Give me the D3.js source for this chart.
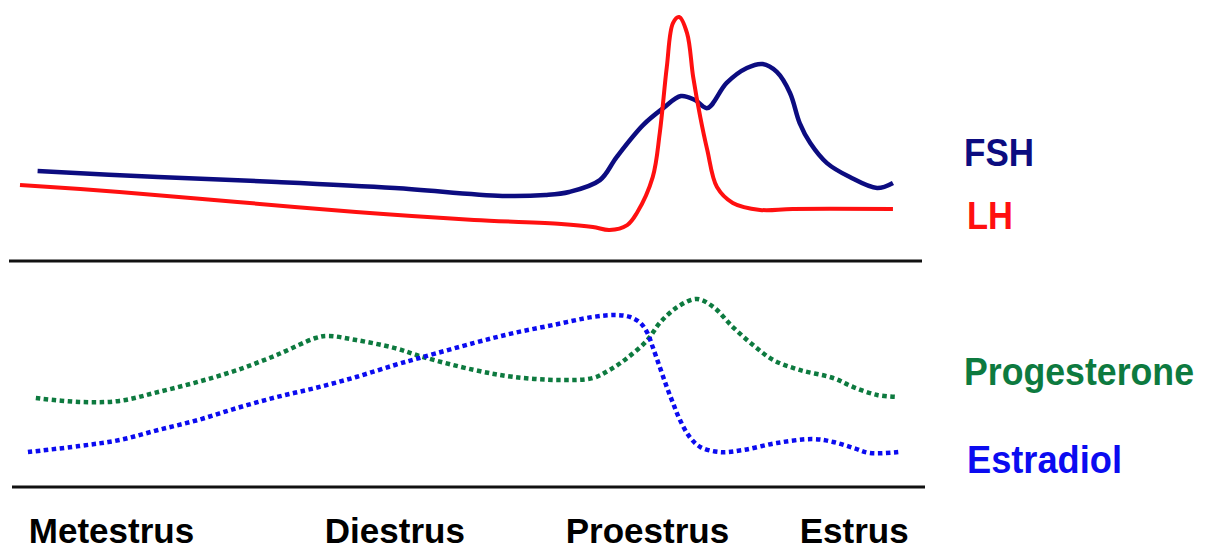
<html>
<head>
<script src="https://d3js.org/d3.v7.min.js"></script>
<style>
body { margin: 0; background: #fff; }
text { font-family: "Liberation Sans", Arial, sans-serif; font-weight: bold; }
</style>
</head>
<body>
<div id="chart"></div>
<script>

// cycle time (0-100) and relative hormone level (0-100)
var fsh = [[2.0,33.9],[15.7,31.3],[29.2,29.2],[42.6,26.6],[54.8,23.2],[59.7,23.6],[62.4,24.9],[65.9,30.0],
  [67.8,39.9],[70.8,53.6],[73.1,60.9],[75.1,66.1],[76.7,64.4],[78.1,60.9],[80.3,71.7],[82.6,78.1],
  [84.4,79.8],[86.0,76.4],[87.5,67.4],[88.6,54.5],[89.8,45.9],[91.7,37.3],[94.3,31.3],[97.4,26.6],[99.2,28.8]];

var lh = [[0,27.9],[11.3,24.9],[24.7,20.6],[38.2,16.3],[51.6,12.9],[61.5,11.2],[65.1,9.9],[67.0,8.6],
  [69.0,10.7],[70.1,15.9],[71.9,31.3],[72.7,50.2],[73.5,78.5],[74.2,97.4],[74.9,100],[75.8,93.1],
  [76.5,74.2],[77.3,57.1],[78.1,42.9],[79.2,27.0],[81.0,20.2],[84.1,17.2],[87.8,17.6],[99.2,17.6]];

var progesterone = [[1.8,42.1],[6.7,39.8],[11.3,40.4],[15.7,45.6],[20.2,51.5],[24.7,58.5],[29.2,67.3],
  [33.6,77.2],[35.0,78.4],[38.2,76.0],[42.6,71.3],[45.8,66.1],[51.6,58.5],[56.1,54.4],[61.5,52.6],
  [65.1,53.8],[67.0,58.5],[69.0,65.5],[71.3,76.0],[72.7,86.0],[74.7,95.3],[76.9,100],[78.8,95.3],
  [81.0,83.6],[83.3,73.1],[85.6,64.3],[88.6,58.5],[92.4,53.8],[94.7,48.5],[97.4,43.9],[99.7,42.7]];

var estradiol = [[0.9,10.5],[6.7,14.0],[11.3,17.5],[15.7,23.4],[20.2,29.2],[24.7,36.3],[29.2,42.7],
  [33.6,48.0],[38.2,54.4],[42.6,61.4],[45.8,66.1],[51.6,74.3],[56.1,80.1],[60.6,84.8],[65.1,89.5],
  [67.8,90.6],[69.3,89.5],[70.5,86.0],[71.3,80.1],[71.9,71.9],[72.7,60.2],[73.5,48.5],[74.2,39.2],
  [75.0,29.2],[76.1,19.3],[77.3,13.5],[79.5,10.5],[82.2,11.7],[86.0,15.8],[90.1,18.1],[92.4,16.4],
  [94.7,12.9],[96.6,9.9],[99.8,10.5]];

var stages = ["Metestrus", "Diestrus", "Proestrus", "Estrus"];
var stageMid = [10.4, 42.6, 71.3, 94.8];

var width = 1214, height = 551;

var svg = d3.select("#chart").append("svg")
  .attr("width", width)
  .attr("height", height);

var x = d3.scaleLinear().domain([0, 100]).range([20, 900]);
var yTop = d3.scaleLinear().domain([0, 100]).range([250, 17]);
var yBot = d3.scaleLinear().domain([0, 100]).range([470, 299]);

var lineTop = d3.line()
  .x(function(d) { return x(d[0]); })
  .y(function(d) { return yTop(d[1]); })
  .curve(d3.curveCatmullRom.alpha(0.5));

var lineBot = d3.line()
  .x(function(d) { return x(d[0]); })
  .y(function(d) { return yBot(d[1]); })
  .curve(d3.curveCatmullRom.alpha(0.5));

// baselines of the two panels
svg.append("line")
  .attr("x1", 9).attr("x2", 922)
  .attr("y1", 261).attr("y2", 261)
  .attr("stroke", "#111").attr("stroke-width", 3);

svg.append("line")
  .attr("x1", 12).attr("x2", 925)
  .attr("y1", 487).attr("y2", 487)
  .attr("stroke", "#111").attr("stroke-width", 3);

svg.append("path")
  .datum(fsh)
  .attr("d", lineTop)
  .attr("fill", "none")
  .attr("stroke", "#0c0c80")
  .attr("stroke-width", 4.5);

svg.append("path")
  .datum(lh)
  .attr("d", lineTop)
  .attr("fill", "none")
  .attr("stroke", "#ff1010")
  .attr("stroke-width", 4);

svg.append("path")
  .datum(progesterone)
  .attr("d", lineBot)
  .attr("fill", "none")
  .attr("stroke", "#0d7a3f")
  .attr("stroke-width", 4.5)
  .attr("stroke-dasharray", "4.5,3.5");

svg.append("path")
  .datum(estradiol)
  .attr("d", lineBot)
  .attr("fill", "none")
  .attr("stroke", "#0b0bf0")
  .attr("stroke-width", 4.5)
  .attr("stroke-dasharray", "4.5,3.5");

// hormone names on the right
var names = [
  { text: "FSH", y: 166, len: 70, color: "#0c0c80" },
  { text: "LH", y: 229, len: 46, color: "#ff1010" },
  { text: "Progesterone", y: 385, len: 230, color: "#0d7a3f" },
  { text: "Estradiol", y: 473, len: 155, color: "#0b0bf0" }
];

svg.selectAll(".name")
  .data(names)
  .enter()
  .append("text")
  .attr("class", "name")
  .attr("x", function(d, i) { return i % 2 ? 967 : 964; })
  .attr("y", function(d) { return d.y; })
  .attr("font-size", "38px")
  .attr("textLength", function(d) { return d.len; })
  .attr("lengthAdjust", "spacingAndGlyphs")
  .attr("fill", function(d) { return d.color; })
  .text(function(d) { return d.text; });

// stage labels along the bottom
svg.selectAll(".stage")
  .data(stages)
  .enter()
  .append("text")
  .attr("class", "stage")
  .attr("x", function(d, i) { return x(stageMid[i]); })
  .attr("y", 543)
  .attr("text-anchor", "middle")
  .attr("font-size", "35px")
  .attr("fill", "#000")
  .text(function(d) { return d; });

</script>
</body>
</html>
